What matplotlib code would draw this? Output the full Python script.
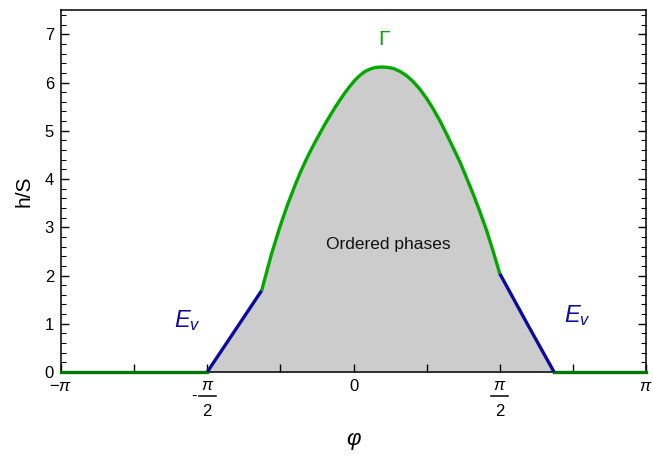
import numpy as np
import matplotlib.pyplot as plt
from matplotlib.ticker import FixedLocator, MultipleLocator

plt.rcParams['font.family'] = ['Liberation Sans', 'DejaVu Sans']
plt.rcParams['mathtext.fontset'] = 'custom'
plt.rcParams['mathtext.rm'] = 'Liberation Sans'
plt.rcParams['mathtext.it'] = 'Liberation Sans:italic'

# boundary (phi in rad, h/S)
phi_flat_left = [-np.pi, -np.pi / 2]
phi_blue_left = [-np.pi / 2, -1.28, -0.986]
h_blue_left = [0.0, 0.84, 1.69]
phi_green = [-0.986, -0.95, -0.915, -0.88, -0.843, -0.80, -0.771, -0.735, -0.70, -0.66,
             -0.628, -0.575, -0.521, -0.468, -0.414, -0.36, -0.306, -0.25, -0.199, -0.145,
             -0.091, -0.04, 0.016, 0.07, 0.124, 0.18, 0.23, 0.28, 0.33, 0.38,
             0.43, 0.50, 0.571, 0.64, 0.714, 0.785, 0.857, 0.93, 1.0, 1.07,
             1.144, 1.215, 1.287, 1.36, 1.43, 1.50, np.pi / 2]
h_green = [1.69, 1.95, 2.20, 2.45, 2.68, 2.95, 3.12, 3.32, 3.51, 3.71,
           3.87, 4.12, 4.35, 4.56, 4.76, 4.95, 5.14, 5.32, 5.48, 5.64,
           5.79, 5.92, 6.05, 6.15, 6.23, 6.28, 6.31, 6.32, 6.32, 6.31,
           6.29, 6.23, 6.14, 6.02, 5.86, 5.67, 5.45, 5.20, 4.93, 4.65,
           4.35, 4.02, 3.68, 3.31, 2.93, 2.50, 2.04]
phi_blue_right = [np.pi / 2, 1.86, 2.154]
h_blue_right = [2.04, 1.02, 0.0]
phi_flat_right = [2.154, np.pi]

xtick_pos = [k * np.pi / 4 for k in range(-4, 5)]
xtick_lab = [r'$-\pi$', '', '', '', '0', '', '', '', r'$\pi$']

fig = plt.figure(figsize=(6.53, 4.62), dpi=100)
ax = fig.add_axes([0.0934, 0.1948, 0.8959, 0.7832])

# gray ordered region
fx = phi_blue_left + phi_green[1:] + phi_blue_right[1:]
fy = h_blue_left + h_green[1:] + h_blue_right[1:]
ax.fill_between(fx, fy, 0, color='#cccccc', lw=0, zorder=1)

ax.plot(phi_flat_left, [0, 0], color='#007800', lw=2.4, zorder=3, clip_on=False)
ax.plot(phi_flat_right, [0, 0], color='#007800', lw=2.4, zorder=3, clip_on=False)
ax.plot(phi_blue_left, h_blue_left, color='#0a0aa0', lw=2.4, zorder=3, solid_capstyle='butt')
ax.plot(phi_blue_right, h_blue_right, color='#0a0aa0', lw=2.4, zorder=3, solid_capstyle='butt')
ax.plot(phi_green, h_green, color='#00a800', lw=2.4, zorder=3, solid_capstyle='butt',
        solid_joinstyle='round')

ax.text(0.37, 2.64, 'Ordered phases', fontsize=12.5, ha='center', va='center', color='#111111')
ax.text(0.33, 6.9, 'Γ', fontsize=15, ha='center', va='center', color='#00a800')
ax.text(-1.78, 1.07, r'$E_v$', fontsize=17, ha='center', va='center', color='#0a0aa0')
ax.text(2.40, 1.18, r'$E_v$', fontsize=17, ha='center', va='center', color='#0a0aa0')

ax.set_xlim(-np.pi, np.pi)
ax.set_ylim(0, 7.5)
ax.xaxis.set_major_locator(FixedLocator(xtick_pos))
ax.set_xticklabels(xtick_lab)
ax.yaxis.set_major_locator(MultipleLocator(1))
ax.yaxis.set_minor_locator(MultipleLocator(0.2))
ax.tick_params(axis='x', direction='in', length=6, width=1, labelsize=12, top=False, pad=5)
ax.tick_params(axis='y', which='major', direction='in', length=6, width=1, labelsize=12, right=True, pad=5)
ax.tick_params(axis='y', which='minor', direction='in', length=3.5, width=0.8, right=True)
for s in ax.spines.values():
    s.set_linewidth(1.1)

# fraction tick labels at +-pi/2
tr = ax.get_xaxis_transform()
for xp, sgn in [(-np.pi / 2, True), (np.pi / 2, False)]:
    ax.text(xp, -0.016, r'$\pi$', transform=tr, ha='center', va='top', fontsize=12)
    ax.plot([xp - 0.09, xp + 0.09], [-0.066, -0.066], transform=tr, color='k', lw=1.1, clip_on=False)
    ax.text(xp, -0.088, '2', transform=tr, ha='center', va='top', fontsize=12)
    if sgn:
        ax.text(xp - 0.11, -0.066, '-', transform=tr, ha='right', va='center', fontsize=12)

ax.set_xlabel(r'$\varphi$', fontsize=16, labelpad=26)
ax.set_ylabel('h/S', fontsize=15, labelpad=8)

fig.savefig('out.png', dpi=100)
